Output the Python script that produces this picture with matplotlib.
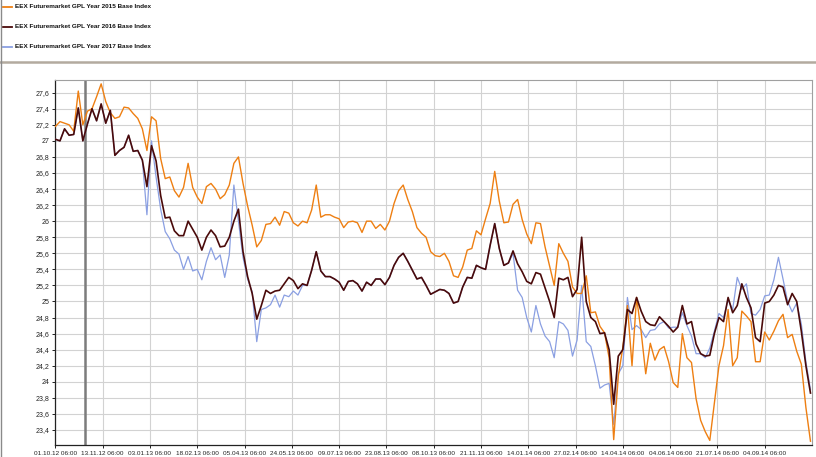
import numpy as np
import matplotlib
matplotlib.use("Agg")
import matplotlib.pyplot as plt
from matplotlib.lines import Line2D

# ---------------- data (sampled every 3 trading days) ----------------
step_days = 3
series_2015 = [
    27.18, 27.24, 27.22, 27.20, 27.12, 27.62, 27.20, 27.37, 27.40, 27.55,
    27.71, 27.49, 27.35, 27.28, 27.30, 27.42, 27.41, 27.34, 27.28, 27.15,
    26.88, 27.30, 27.25, 26.78, 26.53, 26.55, 26.38, 26.30, 26.42, 26.72,
    26.42, 26.30, 26.22, 26.43, 26.47, 26.40, 26.28, 26.33, 26.45, 26.72,
    26.80, 26.47, 26.19, 25.95, 25.68, 25.76, 25.96, 25.97, 26.05, 25.95,
    26.12, 26.10, 25.98, 25.94, 26.00, 25.98, 26.14, 26.45, 26.05, 26.08,
    26.08, 26.05, 26.03, 25.92, 25.99, 26.00, 25.98, 25.86, 26.00, 26.00,
    25.91, 25.96, 25.89, 26.00, 26.22, 26.38, 26.45, 26.27, 26.12, 25.92,
    25.85, 25.80, 25.62, 25.57, 25.56, 25.60, 25.50, 25.32, 25.30, 25.43,
    25.64, 25.66, 25.88, 25.83, 26.03, 26.22, 26.62, 26.25, 25.98, 25.99,
    26.21, 26.27, 26.02, 25.84, 25.72, 25.98, 25.97, 25.68, 25.44, 25.20,
    25.72, 25.60, 25.50, 25.18, 25.10, 25.10, 25.32, 24.86, 24.87, 24.69,
    24.61, 24.30, 23.28, 24.07, 24.43, 24.95, 24.20, 25.05, 24.62, 24.10,
    24.48, 24.27, 24.40, 24.44, 24.25, 23.99, 23.93, 24.60, 24.30, 24.24,
    23.79, 23.52, 23.38, 23.27, 23.74, 24.20, 24.45, 24.90, 24.20, 24.30,
    24.88, 24.82, 24.75, 24.25, 24.25, 24.62, 24.52, 24.63, 24.76, 24.84,
    24.55, 24.59, 24.38, 24.22, 23.68, 23.26,
]
series_2016 = [
    27.02, 27.00, 27.15, 27.07, 27.08, 27.41, 27.00, 27.21, 27.40, 27.25,
    27.46, 27.22, 27.38, 26.82, 26.88, 26.92, 27.07, 26.87, 26.88, 26.76,
    26.43, 26.94, 26.75, 26.32, 26.04, 26.05, 25.88, 25.82, 25.82, 26.00,
    25.90, 25.80, 25.64, 25.80, 25.89, 25.82, 25.68, 25.69, 25.80, 26.00,
    26.15, 25.62, 25.31, 25.10, 24.78, 24.95, 25.14, 25.10, 25.13, 25.14,
    25.22, 25.30, 25.26, 25.16, 25.22, 25.20, 25.39, 25.62, 25.38, 25.31,
    25.31, 25.28, 25.24, 25.14, 25.25, 25.26, 25.22, 25.13, 25.24, 25.20,
    25.28, 25.28, 25.21, 25.30, 25.45, 25.55, 25.60, 25.50, 25.39, 25.28,
    25.30, 25.20, 25.09, 25.12, 25.15, 25.14, 25.10, 24.98, 25.00, 25.18,
    25.30, 25.29, 25.45, 25.42, 25.40, 25.70, 25.97, 25.66, 25.45, 25.48,
    25.63, 25.47, 25.37, 25.25, 25.22, 25.36, 25.34, 25.17, 25.00, 24.80,
    25.29, 25.27, 25.30, 25.06, 25.15, 25.80, 25.00, 24.80, 24.75, 24.60,
    24.61, 24.40, 23.72, 24.32, 24.40, 24.90, 24.85, 25.05, 24.88, 24.75,
    24.71, 24.70, 24.81, 24.75, 24.69, 24.62, 24.68, 24.95, 24.72, 24.75,
    24.47, 24.35, 24.32, 24.33, 24.60, 24.80, 24.75, 25.05, 24.86, 24.95,
    25.22, 25.05, 24.92, 24.55, 24.50, 24.98, 25.00, 25.08, 25.20, 25.18,
    24.96, 25.10, 25.00, 24.63, 24.20, 23.86,
]
series_2017 = [
    27.02, 27.00, 27.15, 27.07, 27.08, 27.41, 27.00, 27.21, 27.40, 27.25,
    27.46, 27.22, 27.38, 26.82, 26.88, 26.92, 27.07, 26.87, 26.88, 26.76,
    26.08, 27.00, 26.55, 26.15, 25.87, 25.78, 25.64, 25.59, 25.40, 25.56,
    25.38, 25.40, 25.27, 25.50, 25.67, 25.52, 25.58, 25.30, 25.58, 26.45,
    26.00, 25.55, 25.28, 25.12, 24.50, 24.90, 24.92, 24.96, 25.08, 24.93,
    25.08, 25.06, 25.13, 25.08, 25.20, 25.20, 25.39, 25.62, 25.38, 25.31,
    25.31, 25.28, 25.24, 25.14, 25.25, 25.26, 25.22, 25.13, 25.24, 25.20,
    25.28, 25.28, 25.21, 25.30, 25.45, 25.55, 25.60, 25.50, 25.39, 25.28,
    25.30, 25.20, 25.09, 25.12, 25.15, 25.14, 25.10, 24.98, 25.00, 25.18,
    25.30, 25.29, 25.45, 25.42, 25.40, 25.70, 25.97, 25.66, 25.45, 25.48,
    25.60, 25.14, 25.05, 24.80, 24.62, 24.95, 24.72, 24.57, 24.50, 24.30,
    24.75, 24.72, 24.64, 24.32, 24.52, 25.20, 24.50, 24.44, 24.20, 23.92,
    23.96, 23.98, 23.47, 24.10, 24.20, 25.05, 24.65, 24.70, 24.65, 24.55,
    24.64, 24.65, 24.72, 24.75, 24.67, 24.68, 24.68, 24.86, 24.70, 24.57,
    24.35, 24.35, 24.30, 24.42, 24.63, 24.85, 24.80, 25.02, 24.90, 25.30,
    25.15, 25.22, 24.85, 24.83, 24.90, 25.07, 25.08, 25.27, 25.55, 25.28,
    25.00, 24.87, 24.98, 24.72, 24.25, 23.90,
]
tick_labels = [
    "01.10.12 06:00", "13.11.12 06:00", "03.01.13 06:00", "18.02.13 06:00",
    "05.04.13 06:00", "24.05.13 06:00", "09.07.13 06:00", "23.08.13 06:00",
    "08.10.13 06:00", "21.11.13 06:00", "14.01.14 06:00", "27.02.14 06:00",
    "14.04.14 06:00", "04.06.14 06:00", "21.07.14 06:00", "04.09.14 06:00",
]
tick_every_days = 31
marker_day = 19.5
legend_names = [
    "EEX Futuremarket GPL Year 2015 Base Index",
    "EEX Futuremarket GPL Year 2016 Base Index",
    "EEX Futuremarket GPL Year 2017 Base Index",
]
y_ticks = [23.4 + 0.2 * k for k in range(22)]

# ---------------- styling ----------------
C15, C16, C17 = "#EE7F12", "#4A0A0A", "#8A9FE2"
W, H = 816, 457
fig = plt.figure(figsize=(W / 100, H / 100), dpi=100)
fig.patch.set_facecolor("white")

left, right, top, bottom = 55.4, 812, 80, 445
ax = fig.add_axes([left / W, 1 - bottom / H, (right - left) / W, (bottom - top) / H])

x = np.arange(len(series_2016)) * step_days
ax.plot(x, series_2017, color=C17, lw=0.9, zorder=3)
ax.plot(x, series_2015, color=C15, lw=1.0, zorder=4)
ax.plot(x, series_2016, color=C16, lw=1.2, zorder=5)

ax.axvline(marker_day, color="#7C7C7C", lw=1.8, zorder=2)

ax.set_xlim(0, 496)
ax.set_ylim(23.213, 27.758)
ax.set_xticks([k * tick_every_days for k in range(len(tick_labels))])
ax.set_xticklabels(tick_labels, fontsize=4.6, family="Liberation Sans")
ax.set_yticks(y_ticks)
ax.set_yticklabels([f"{v:.1f}".replace(".", ",").replace(",0", "") for v in y_ticks],
                   fontsize=5.0, family="Liberation Sans")
ax.tick_params(axis="both", length=2.5, width=0.7, pad=2, colors="#222222")
ax.grid(True, color="#D2D2D2", lw=0.8)
ax.set_axisbelow(True)
for s in ("top", "right"):
    ax.spines[s].set_color("#A0A0A0")
    ax.spines[s].set_linewidth(0.8)
for s in ("left", "bottom"):
    ax.spines[s].set_color("#222222")
    ax.spines[s].set_linewidth(0.9)

# ---------------- legend area ----------------
for k, (name, col) in enumerate(zip(legend_names, [C15, C16, C17])):
    yy = 1 - (7 + 20 * k) / H
    fig.add_artist(Line2D([3 / W, 12 / W], [yy, yy], color=col, lw=1.3,
                          transform=fig.transFigure))
    fig.text(15 / W, yy, name, fontsize=4.6, fontweight="bold",
             family="Liberation Sans", va="center", ha="left", color="#111111")

fig.add_artist(Line2D([0, 1], [1 - 61.5 / H, 1 - 61.5 / H], color="#B3AA9F",
                      lw=1.8, transform=fig.transFigure))
fig.add_artist(Line2D([1.2 / W, 1.2 / W], [0, 1], color="#8A8A8A",
                      lw=1.0, transform=fig.transFigure))

fig.savefig("out.png", dpi=100, facecolor="white")
